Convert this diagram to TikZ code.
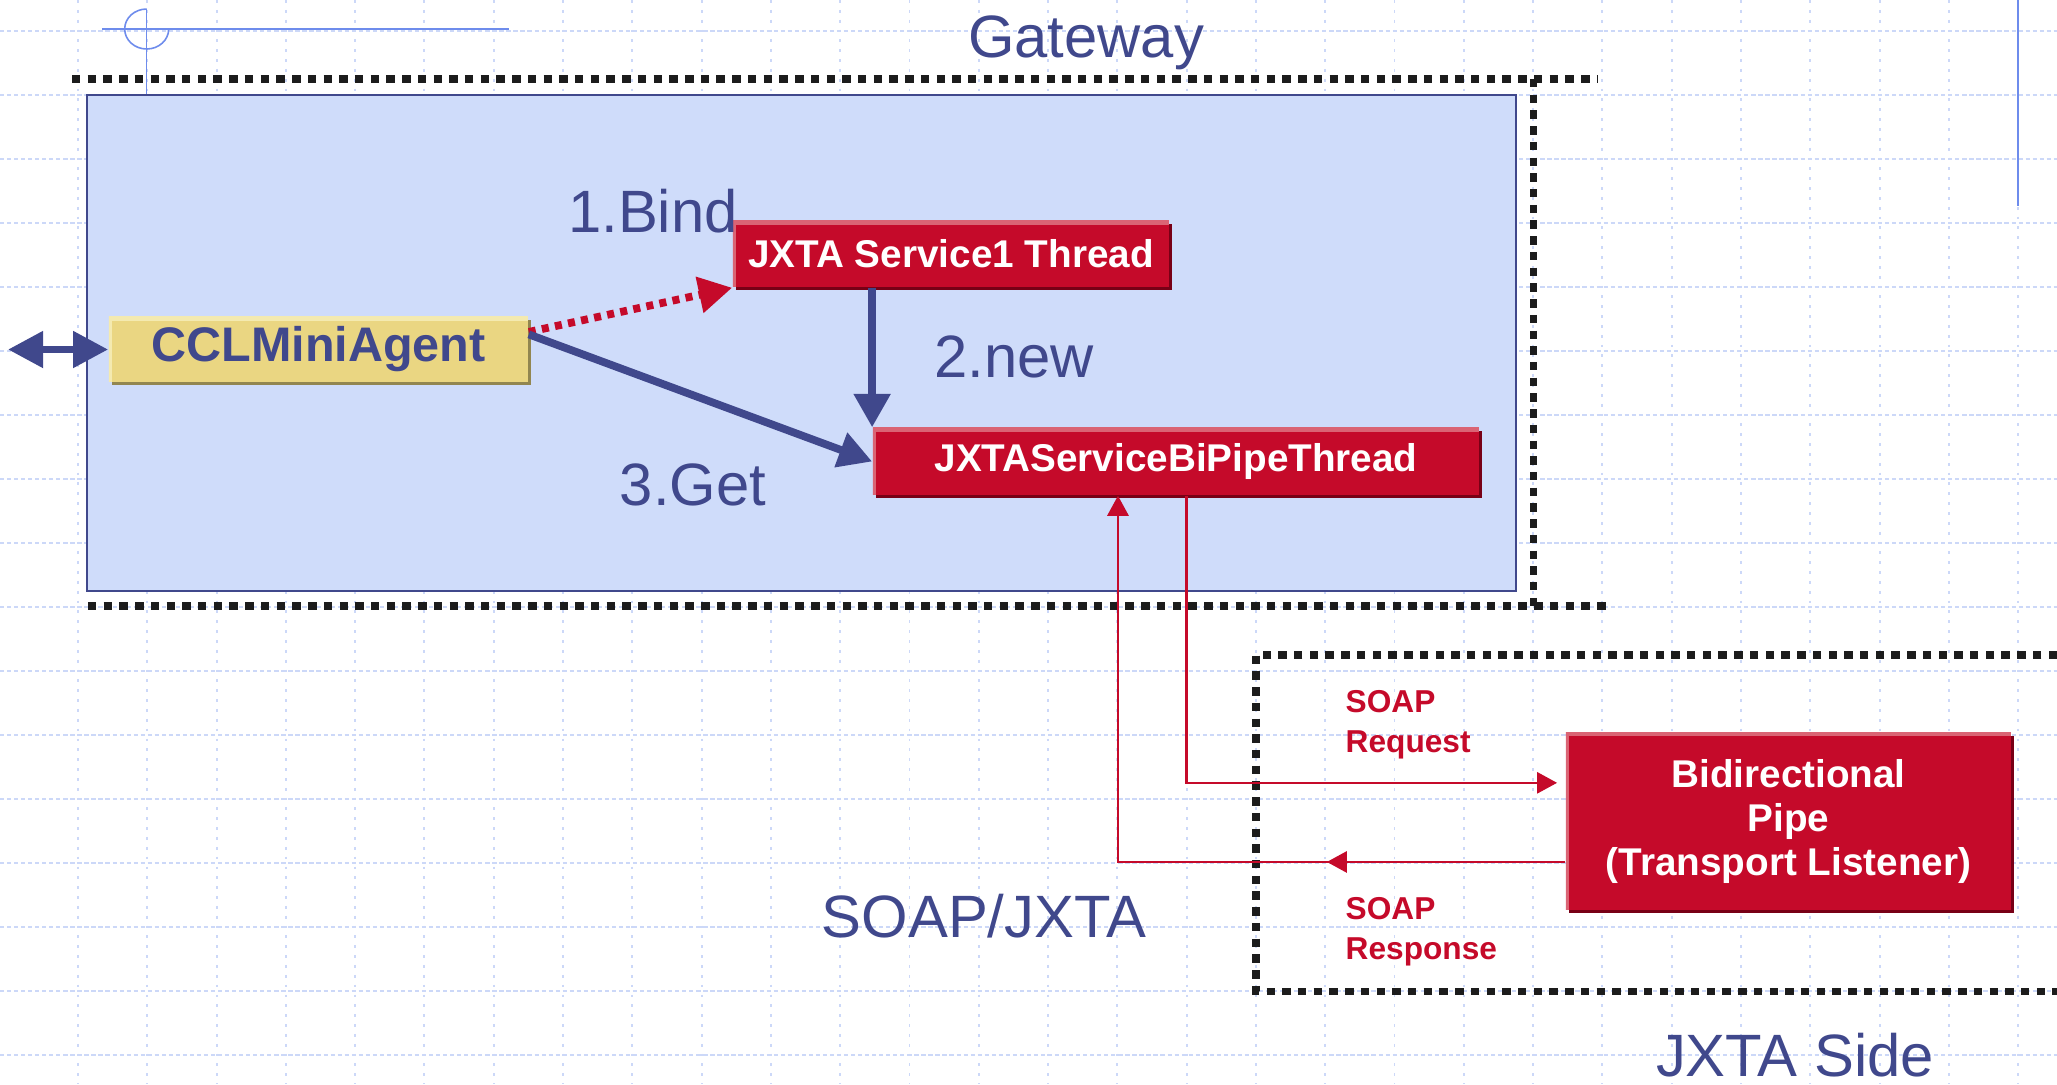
\documentclass[tikz,border=0pt]{standalone}
\usepackage{fontspec}
\setmainfont{Liberation Sans}
\usetikzlibrary{arrows.meta,shadows,decorations.markings}

\definecolor{jblue}{RGB}{64,72,140}
\definecolor{jred}{RGB}{197,10,42}
\definecolor{jredlight}{RGB}{218,100,116}
\definecolor{jreddark}{RGB}{120,0,22}
\definecolor{jyellow}{RGB}{234,214,130}
\definecolor{jyellowlight}{RGB}{244,234,176}
\definecolor{jyellowdark}{RGB}{146,134,80}
\definecolor{gwfill}{RGB}{207,220,250}
\definecolor{gridblue}{RGB}{204,216,248}
\definecolor{decoblue}{RGB}{110,140,236}
\definecolor{framegray}{RGB}{28,28,28}

\tikzset{
  gridh/.style={draw=gridblue,line width=0.55pt,dash pattern=on 1.2pt off 0.8pt},
  gridv/.style={draw=gridblue,line width=0.55pt,dash pattern=on 0.8pt off 2pt},
  dotframe/.style={draw=framegray,line width=2pt,dash pattern=on 2.4pt off 2.07pt},
  decoline/.style={draw=decoblue,line width=0.45pt},
  bevel/.style 2 args={path picture={\draw[line width=2pt,#1] (path picture bounding box.south west) |- (path picture bounding box.north east);},
    drop shadow={shadow xshift=0.9pt,shadow yshift=-0.9pt,fill=#2,opacity=1}},
  redbox/.style={fill=jred,text=white,inner sep=0pt,font=\bfseries\fontsize{11}{12.4}\selectfont,bevel={jredlight}{jreddark}},
  agentbox/.style={fill=jyellow,text=jblue,inner sep=0pt,font=\bfseries\fontsize{13.8}{16}\selectfont,bevel={jyellowlight}{jyellowdark}},
  lbl/.style={text=jblue,inner sep=0pt,anchor=base,font=\fontsize{17}{20}\selectfont},
  soaplbl/.style={text=jred,inner sep=0pt,anchor=north west,align=left,font=\bfseries\fontsize{9}{11.4}\selectfont},
  fat/.style={draw=jblue,line width=2.2pt,-{Triangle[length=9.5pt,width=10pt]}},
  bindline/.style={draw=jred,line width=2.2pt,dash pattern=on 2pt off 1.8pt,-{Triangle[length=9.5pt,width=10pt]}},
  soap/.style={draw=jred,line width=0.75pt,-{Triangle[length=5.7pt,width=6pt]}},
}

\begin{document}
\begin{tikzpicture}[x=0.01cm,y=-0.01cm]
\useasboundingbox (0,0) rectangle (2057,1084);
\foreach \gx in {0,...,28} \draw[gridv] ({78+69.29*\gx},0) -- ({78+69.29*\gx},1084);
\foreach \gy in {0,...,16} \draw[gridh] (0,{31+64*\gy}) -- (2057,{31+64*\gy});

\draw[decoline] (102,29) -- (509,29);
\draw[decoline] (146.7,9) -- (146.7,95);
\draw[decoline] (146.7,9) arc[start angle=270,end angle=0,x radius=22,y radius=20];
\draw[decoline] (2018,0) -- (2018,206);

\draw[jblue,line width=0.6pt,fill=gwfill] (87,95) rectangle (1516,591);
\draw[dotframe] (72,79) -- (1597,79);
\draw[dotframe] (1533,79) -- (1533,606);
\draw[dotframe] (88,606) -- (1611,606);
\draw[dotframe] (2057,655) -| (1256,991) -- (2057,991);

\node[agentbox,minimum width=4.19cm,minimum height=0.65cm] (agent) at (318.5,349.5) {CCLMiniAgent};
\node[redbox,minimum width=4.36cm,minimum height=0.66cm] (svc) at (951,254) {JXTA Service1 Thread};
\node[redbox,minimum width=6.06cm,minimum height=0.67cm] (bipipe) at (1176,461.5) {JXTAServiceBiPipeThread};
\node[redbox,align=center,minimum width=4.45cm,minimum height=1.77cm] (pipe) at (1788.5,821.5) {Bidirectional\\Pipe\\(Transport Listener)};

\coordinate (ext) at (8,349.5);
\draw[fat,{Triangle[length=10pt,width=10pt]}-{Triangle[length=10pt,width=10pt]}] (ext) -- (agent.west);
\draw[bindline] ([yshift=5pt]agent.east) -- (svc.south west);
\draw[fat] ([yshift=4.3pt]agent.east) -- (bipipe.west);
\draw[fat] (svc.south -| bipipe.west) -- (bipipe.north west);

\draw[soap,shorten >=2.3pt] ([xshift=3pt]bipipe.south) |- ([yshift=11pt]pipe.west);
\draw[soap,decoration={markings,mark=at position 0.293 with {\arrow{Triangle[length=5.7pt,width=6pt]}}},postaction={decorate}] ([yshift=-11.5pt]pipe.west) -| ([xshift=-16.5pt]bipipe.south);

\node[lbl] (gw) at (1086,57) {Gateway};
\node[lbl] (bind) at (653,232) {1.Bind};
\node[lbl] (new) at (1014,377) {2.new};
\node[lbl] (get) at (693,505) {3.Get};
\node[lbl] (soapjxta) at (984,937) {SOAP/JXTA};
\node[lbl] (jxtaside) at (1795,1076) {JXTA Side};
\node[soaplbl] (req) at (1345,690) {SOAP\\Request};
\node[soaplbl] (resp) at (1345,897) {SOAP\\Response};
\end{tikzpicture}
\end{document}
